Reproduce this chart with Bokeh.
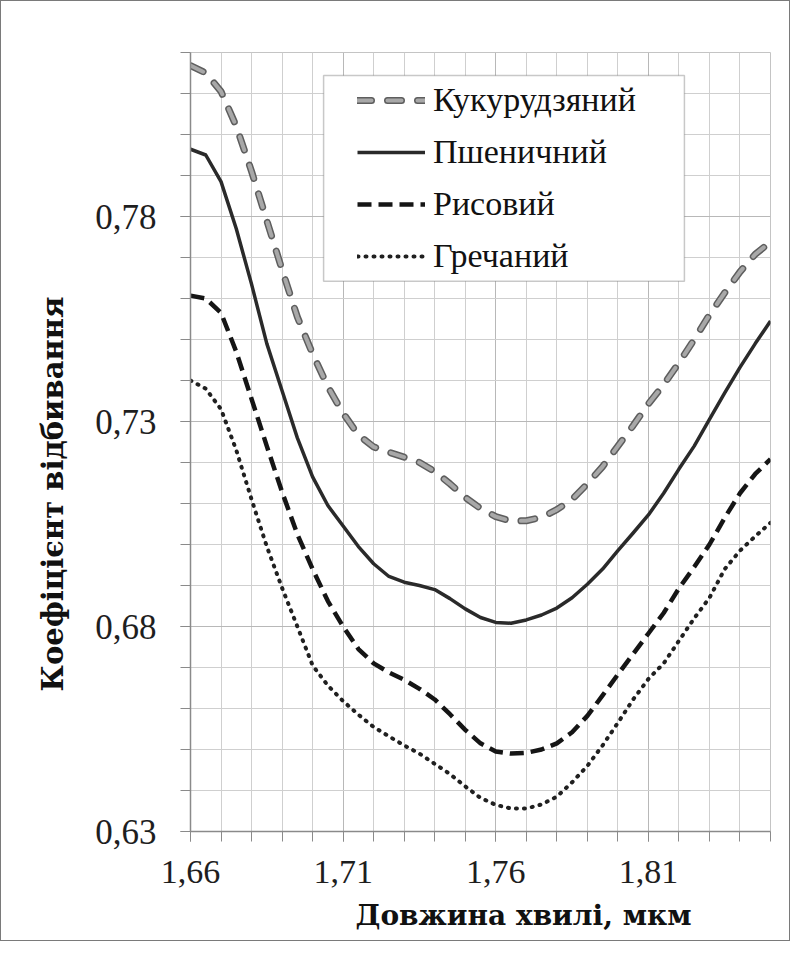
from bokeh.plotting import figure
from bokeh.models import (Range1d, FixedTicker, CustomJSTickFormatter, Legend,
                          LegendItem, BoxAnnotation, ColumnDataSource, Title)
from bokeh.embed import file_html
from bokeh.resources import INLINE

# ---- data ----
wavelength = [1.660, 1.665, 1.670, 1.675, 1.680, 1.685, 1.690, 1.695, 1.700, 1.705,
              1.710, 1.715, 1.720, 1.725, 1.730, 1.735, 1.740, 1.745, 1.750, 1.755,
              1.760, 1.765, 1.770, 1.775, 1.780, 1.785, 1.790, 1.795, 1.800, 1.805,
              1.810, 1.815, 1.820, 1.825, 1.830, 1.835, 1.840, 1.845, 1.850]

corn = [0.8168, 0.8150, 0.8105, 0.8020, 0.7910, 0.7790, 0.7670, 0.7555, 0.7465, 0.7385,
        0.7320, 0.7267, 0.7238, 0.7225, 0.7213, 0.7200, 0.7178, 0.7148, 0.7115, 0.7088,
        0.7068, 0.7057, 0.7058, 0.7066, 0.7085, 0.7110, 0.7148, 0.7190, 0.7240, 0.7290,
        0.7343, 0.7390, 0.7443, 0.7500, 0.7560, 0.7614, 0.7665, 0.7708, 0.7738]

wheat = [0.7964, 0.7950, 0.7885, 0.7770, 0.7635, 0.7490, 0.7375, 0.7260, 0.7165, 0.7095,
         0.7045, 0.6995, 0.6953, 0.6922, 0.6908, 0.6900, 0.6890, 0.6868, 0.6843, 0.6822,
         0.6810, 0.6808, 0.6816, 0.6828, 0.6845, 0.6870, 0.6903, 0.6940, 0.6985, 0.7028,
         0.7072, 0.7125, 0.7184, 0.7240, 0.7305, 0.7370, 0.7432, 0.7490, 0.7545]

rice = [0.7607, 0.7600, 0.7565, 0.7470, 0.7355, 0.7240, 0.7128, 0.7025, 0.6940, 0.6862,
        0.6800, 0.6745, 0.6710, 0.6688, 0.6670, 0.6648, 0.6622, 0.6586, 0.6548, 0.6515,
        0.6495, 0.6490, 0.6492, 0.6500, 0.6515, 0.6542, 0.6582, 0.6632, 0.6683, 0.6733,
        0.6783, 0.6833, 0.6893, 0.6945, 0.7000, 0.7065, 0.7125, 0.7172, 0.7208]

buckwheat = [0.7400, 0.7380, 0.7330, 0.7230, 0.7110, 0.6995, 0.6894, 0.6800, 0.6705, 0.6656,
             0.6618, 0.6585, 0.6555, 0.6532, 0.6510, 0.6490, 0.6465, 0.6440, 0.6410, 0.6382,
             0.6365, 0.6356, 0.6356, 0.6366, 0.6385, 0.6420, 0.6460, 0.6510, 0.6565, 0.6622,
             0.6672, 0.6710, 0.6765, 0.6820, 0.6870, 0.6940, 0.6985, 0.7020, 0.7053]

series_names = ["Кукурудзяний", "Пшеничний", "Рисовий", "Гречаний"]
x_major = [1.66, 1.71, 1.76, 1.81]
y_major = [0.63, 0.68, 0.73, 0.78]
x_minor = [round(1.66 + 0.01 * i, 2) for i in range(20)]
y_minor = [round(0.63 + 0.01 * i, 2) for i in range(20)]
x_title = "Довжина хвилі, мкм"
y_title = "Коефіцієнт відбивання"

FONT = "Liberation Serif"
TITLE_FONT = "DejaVu Serif"

src = ColumnDataSource(dict(x=wavelength, corn=corn, wheat=wheat, rice=rice, buck=buckwheat))

p = figure(width=790, height=941, output_backend="svg", toolbar_location=None,
           x_range=Range1d(1.66, 1.85), y_range=Range1d(0.63, 0.82),
           min_border_left=189, min_border_right=21, min_border_top=51, min_border_bottom=110)
p.styles = {"border": "1px solid #7a7a7a"}
p.background_fill_color = "white"
p.border_fill_color = "white"
p.outline_line_color = "#c4c4c4"

fmt = CustomJSTickFormatter(code="return tick.toFixed(2).replace('.', ',');")
p.xaxis.ticker = FixedTicker(ticks=x_major, minor_ticks=x_minor)
p.yaxis.ticker = FixedTicker(ticks=y_major, minor_ticks=y_minor)
for ax in (p.xaxis, p.yaxis):
    ax.formatter = fmt
    ax.axis_line_color = "#8a8a8a"
    ax.axis_line_width = 1.5
    ax.major_tick_line_color = "#8a8a8a"
    ax.minor_tick_line_color = "#8a8a8a"
    ax.major_tick_out = 10
    ax.minor_tick_out = 10
    ax.major_tick_in = 0
    ax.minor_tick_in = 0
    ax.major_label_text_font = FONT
    ax.major_label_text_color = "#1e1e1e"
p.xaxis.major_label_text_font_size = "34px"
p.yaxis.major_label_text_font_size = "35px"
p.xaxis.major_label_standoff = 19
p.yaxis.major_label_standoff = 24

p.xgrid.ticker = FixedTicker(ticks=x_major, minor_ticks=x_minor)
p.ygrid.ticker = FixedTicker(ticks=y_major, minor_ticks=y_minor)
for g in (p.xgrid, p.ygrid):
    g.grid_line_color = "#b8b8b8"
    g.grid_line_width = 1
    g.minor_grid_line_color = "#cfcfcf"
    g.minor_grid_line_width = 1

# lines
r_corn_edge = p.line("x", "corn", source=src, line_color="#5e5e5e", line_width=7,
                     line_dash="14 16", line_cap="round", line_join="round")
r_corn = p.line("x", "corn", source=src, line_color="#a8a8a8", line_width=4,
                line_dash="14 16", line_cap="round", line_join="round")
r_wheat = p.line("x", "wheat", source=src, line_color="#2a2a2a", line_width=3.5,
                 line_join="round")
r_rice = p.line("x", "rice", source=src, line_color="#151515", line_width=4.5,
                line_dash="14 7", line_join="round")
r_buck = p.line("x", "buck", source=src, line_color="#202020", line_width=4,
                line_dash="1 7", line_cap="round", line_join="round")

# legend box
box = BoxAnnotation(left=1.7036, right=1.8218, bottom=0.7642, top=0.8144,
                    fill_color="white", fill_alpha=1.0, line_color="#4a4a4a",
                    line_width=1.5, level="annotation")
p.add_layout(box)

legend = Legend(items=[
    LegendItem(label=series_names[0], renderers=[r_corn_edge, r_corn]),
    LegendItem(label=series_names[1], renderers=[r_wheat]),
    LegendItem(label=series_names[2], renderers=[r_rice]),
    LegendItem(label=series_names[3], renderers=[r_buck]),
], location=(167, 554))
legend.padding = 0
legend.margin = 0
legend.spacing = 10
legend.label_height = 42
legend.glyph_height = 20
legend.glyph_width = 68
legend.label_standoff = 8
legend.label_text_font = FONT
legend.label_text_font_size = "34px"
legend.label_text_color = "#111111"
legend.border_line_color = None
legend.background_fill_alpha = 0
p.add_layout(legend)

# axis titles
tx = Title(text=x_title, align="left", offset=165, standoff=22,
           text_font=TITLE_FONT, text_font_size="28px", text_font_style="bold",
           text_color="#111111")
p.add_layout(tx, "below")
ty = Title(text=y_title, align="left", offset=140, standoff=46,
           text_font=TITLE_FONT, text_font_size="29px", text_font_style="bold",
           text_color="#111111")
p.add_layout(ty, "left")

open("out.html", "w").write(file_html(p, INLINE))
